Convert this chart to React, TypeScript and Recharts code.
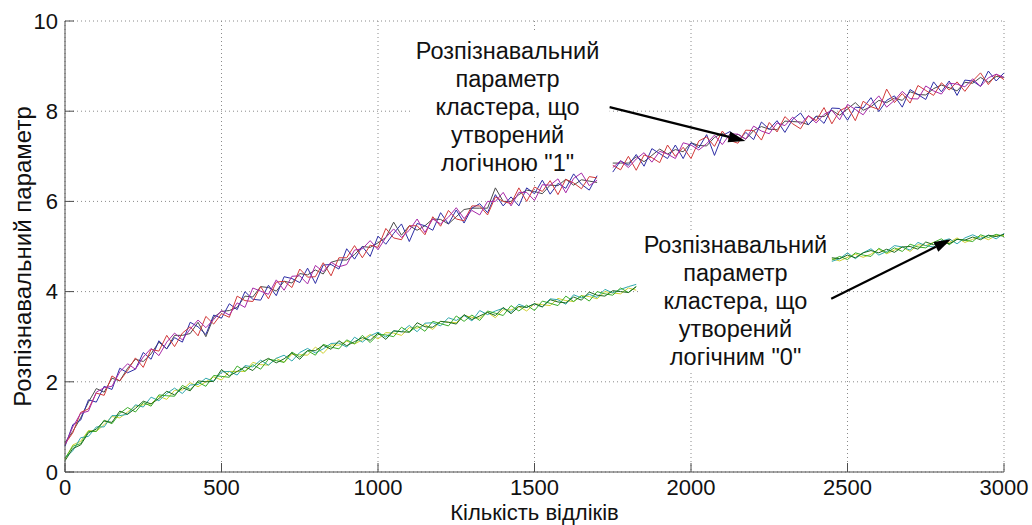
import React from 'react';
import {
  LineChart,
  Line,
  XAxis,
  YAxis,
  CartesianGrid,
  ReferenceLine,
  ReferenceDot,
  ReferenceArea,
} from 'recharts';

const FONT = "'Liberation Sans', Arial, Helvetica, sans-serif";

// sampling step of every recorded run (number of samples between points)
const STEP = 25;

const xTicks = [0, 500, 1000, 1500, 2000, 2500, 3000];
const yTicks = [0, 2, 4, 6, 8, 10];

// ---- cluster formed by logical "1": first run starts at 0, second at 1750
const oneStartA = 0;
const oneStartB = 1750;

const oneRedA = [0.62, 0.87, 1.32, 1.40, 1.75, 1.70, 2.13, 2.02, 2.25, 2.53, 2.32, 2.72, 2.68, 3.03, 2.78, 3.08, 3.22, 3.02, 3.45, 3.28, 3.51, 3.43, 3.90, 3.80, 3.78, 4.11, 3.84, 4.21, 4.23, 4.09, 4.50, 4.32, 4.33, 4.64, 4.35, 4.75, 4.75, 5.02, 4.75, 5.03, 4.98, 5.40, 5.19, 5.15, 5.46, 5.46, 5.26, 5.66, 5.45, 5.80, 5.61, 5.57, 5.90, 5.90, 5.70, 6.10, 6.00, 5.95, 6.30, 6.00, 6.32, 6.22, 6.46, 6.15, 6.49, 6.41, 6.28, 6.55, 6.52];
const oneBlueA = [0.57, 1.05, 1.15, 1.60, 1.55, 1.90, 1.83, 2.30, 2.20, 2.28, 2.65, 2.50, 2.91, 2.73, 2.98, 2.88, 3.32, 3.22, 3.05, 3.48, 3.41, 3.73, 3.60, 4.00, 3.83, 3.81, 4.14, 3.91, 4.33, 4.29, 4.20, 4.52, 4.18, 4.59, 4.60, 4.50, 4.95, 4.72, 5.00, 4.78, 5.23, 5.05, 5.29, 5.50, 5.11, 5.51, 5.46, 5.36, 5.75, 5.50, 5.81, 5.52, 5.85, 5.95, 5.75, 6.15, 5.90, 6.10, 5.90, 6.30, 6.17, 6.47, 6.16, 6.40, 6.29, 6.61, 6.38, 6.25, 6.57];
const oneMagentaA = [0.60, 1.00, 1.30, 1.35, 1.77, 1.87, 1.90, 2.22, 2.40, 2.28, 2.55, 2.74, 2.58, 2.88, 3.08, 2.93, 3.17, 3.37, 3.20, 3.38, 3.58, 3.48, 3.75, 3.65, 4.08, 4.01, 3.94, 4.26, 4.03, 4.34, 4.35, 4.17, 4.58, 4.44, 4.65, 4.55, 4.60, 4.92, 4.95, 5.13, 4.93, 5.20, 5.39, 5.20, 5.36, 5.61, 5.31, 5.61, 5.50, 5.65, 5.86, 5.62, 5.80, 5.70, 6.00, 6.00, 6.20, 5.90, 6.20, 6.20, 6.02, 6.37, 6.36, 6.50, 6.19, 6.51, 6.63, 6.35, 6.47];
const oneGrayA = [0.65, 0.90, 1.20, 1.55, 1.85, 1.77, 2.08, 2.02, 2.30, 2.50, 2.45, 2.62, 2.88, 2.73, 3.03, 3.03, 3.07, 3.32, 3.00, 3.43, 3.56, 3.58, 3.65, 3.90, 3.88, 4.11, 4.09, 4.01, 4.23, 4.19, 4.40, 4.37, 4.48, 4.39, 4.65, 4.70, 4.70, 4.82, 5.00, 4.98, 5.08, 5.20, 5.54, 5.25, 5.46, 5.36, 5.46, 5.61, 5.60, 5.50, 5.66, 5.82, 5.85, 5.85, 5.85, 6.30, 6.00, 6.00, 6.15, 6.25, 6.22, 6.17, 6.36, 6.35, 6.49, 6.36, 6.48, 6.45, 6.42];

const oneRedB = [6.80, 6.70, 7.00, 6.69, 7.03, 6.97, 6.86, 7.25, 7.00, 7.20, 6.95, 7.34, 7.43, 7.22, 7.56, 7.35, 7.29, 7.58, 7.57, 7.36, 7.75, 7.54, 7.88, 7.72, 7.61, 7.90, 7.79, 8.08, 7.72, 8.01, 8.10, 7.79, 8.22, 8.10, 8.04, 8.49, 8.19, 8.39, 8.18, 8.57, 8.46, 8.35, 8.63, 8.47, 8.65, 8.44, 8.67, 8.85, 8.59, 8.82, 8.70];
const oneBlueB = [6.65, 6.90, 6.80, 7.04, 6.78, 7.17, 7.06, 6.95, 7.25, 6.95, 7.30, 7.19, 7.48, 7.02, 7.46, 7.55, 7.34, 7.53, 7.37, 7.76, 7.60, 7.79, 7.53, 7.82, 7.96, 7.70, 7.89, 7.73, 8.07, 8.06, 7.80, 8.09, 8.07, 8.30, 7.99, 8.24, 8.34, 8.09, 8.48, 8.37, 8.26, 8.65, 8.43, 8.67, 8.35, 8.69, 8.67, 8.55, 8.89, 8.67, 8.85];
const oneMagentaB = [6.75, 6.90, 6.75, 6.94, 7.08, 6.87, 7.11, 7.05, 6.95, 7.30, 7.25, 7.14, 7.28, 7.47, 7.26, 7.50, 7.49, 7.38, 7.67, 7.56, 7.50, 7.74, 7.68, 7.87, 7.71, 7.90, 7.74, 7.93, 8.02, 7.81, 8.15, 8.04, 7.92, 8.15, 8.34, 8.09, 8.24, 8.44, 8.28, 8.27, 8.56, 8.45, 8.38, 8.62, 8.60, 8.54, 8.72, 8.55, 8.74, 8.82, 8.75];
const oneGrayB = [6.85, 6.85, 6.85, 6.99, 6.88, 7.02, 7.16, 7.05, 7.15, 7.10, 7.30, 7.24, 7.23, 7.42, 7.51, 7.40, 7.49, 7.38, 7.57, 7.66, 7.60, 7.59, 7.78, 7.77, 7.76, 7.70, 7.89, 7.88, 8.02, 7.91, 8.05, 8.19, 8.02, 8.10, 8.24, 8.19, 8.29, 8.24, 8.43, 8.37, 8.36, 8.50, 8.58, 8.52, 8.45, 8.64, 8.62, 8.75, 8.64, 8.77, 8.75];

// ---- cluster formed by logical "0": first run starts at 0, second at 2450
const zeroStartA = 0;
const zeroStartB = 2450;

const zeroGreenA = [0.30, 0.57, 0.63, 0.90, 0.90, 1.15, 1.07, 1.30, 1.43, 1.33, 1.54, 1.46, 1.71, 1.69, 1.68, 1.92, 1.83, 1.99, 1.90, 2.14, 2.12, 2.10, 2.35, 2.23, 2.38, 2.28, 2.50, 2.47, 2.43, 2.66, 2.55, 2.69, 2.59, 2.83, 2.77, 2.73, 2.93, 2.84, 3.03, 2.87, 3.05, 3.04, 3.00, 3.21, 3.10, 3.24, 3.12, 3.34, 3.29, 3.24, 3.46, 3.34, 3.48, 3.36, 3.57, 3.52, 3.47, 3.69, 3.57, 3.70, 3.58, 3.79, 3.74, 3.69, 3.90, 3.78, 3.91, 3.79, 4.00, 3.95, 3.92, 4.08, 3.98, 4.11];
const zeroCyanA = [0.32, 0.47, 0.76, 0.79, 1.00, 1.00, 1.25, 1.25, 1.28, 1.49, 1.44, 1.66, 1.58, 1.74, 1.86, 1.74, 1.93, 1.94, 2.08, 2.01, 2.22, 2.23, 2.15, 2.36, 2.33, 2.48, 2.37, 2.52, 2.59, 2.46, 2.65, 2.74, 2.64, 2.73, 2.85, 2.86, 2.77, 2.99, 2.88, 3.02, 3.10, 2.99, 3.13, 3.11, 3.25, 3.11, 3.30, 3.31, 3.24, 3.42, 3.36, 3.47, 3.35, 3.58, 3.49, 3.57, 3.63, 3.54, 3.72, 3.65, 3.73, 3.66, 3.84, 3.82, 3.72, 3.93, 3.86, 3.94, 3.87, 4.05, 3.97, 4.05, 4.11, 4.16];
const zeroYellowA = [0.28, 0.60, 0.68, 0.92, 0.90, 1.05, 1.23, 1.20, 1.33, 1.46, 1.49, 1.51, 1.68, 1.61, 1.81, 1.82, 1.98, 1.89, 2.00, 2.11, 2.04, 2.23, 2.23, 2.23, 2.43, 2.38, 2.37, 2.52, 2.43, 2.61, 2.60, 2.59, 2.77, 2.63, 2.82, 2.81, 2.90, 2.84, 2.93, 3.05, 2.95, 3.09, 3.08, 3.03, 3.20, 3.19, 3.27, 3.16, 3.34, 3.32, 3.31, 3.47, 3.43, 3.41, 3.54, 3.42, 3.60, 3.59, 3.67, 3.57, 3.73, 3.71, 3.69, 3.85, 3.80, 3.78, 3.91, 3.89, 3.84, 4.00, 3.97, 3.95, 4.08, 4.03];
const zeroDarkA = [0.25, 0.52, 0.60, 0.87, 0.95, 1.13, 1.10, 1.35, 1.28, 1.41, 1.57, 1.51, 1.63, 1.79, 1.71, 1.87, 1.80, 2.02, 2.00, 2.01, 2.27, 2.13, 2.23, 2.33, 2.25, 2.43, 2.52, 2.42, 2.51, 2.64, 2.50, 2.69, 2.69, 2.81, 2.72, 2.91, 2.80, 2.89, 2.98, 2.92, 3.08, 2.94, 3.13, 3.11, 3.10, 3.31, 3.22, 3.21, 3.34, 3.32, 3.28, 3.49, 3.38, 3.46, 3.54, 3.47, 3.65, 3.51, 3.67, 3.65, 3.73, 3.66, 3.82, 3.77, 3.75, 3.88, 3.81, 3.99, 3.92, 3.90, 4.02, 4.00, 3.98, 4.11];

const zeroGreenB = [4.70, 4.78, 4.71, 4.86, 4.81, 4.78, 4.96, 4.86, 4.97, 4.89, 5.05, 4.99, 4.97, 5.09, 5.17, 5.04, 5.16, 5.14, 5.11, 5.26, 5.20, 5.27, 5.22];
const zeroCyanB = [4.67, 4.73, 4.86, 4.73, 4.86, 4.95, 4.81, 4.89, 5.02, 4.99, 4.92, 5.09, 5.02, 4.99, 5.12, 5.17, 5.06, 5.19, 5.26, 5.18, 5.25, 5.17, 5.29];
const zeroYellowB = [4.73, 4.68, 4.76, 4.83, 4.76, 4.83, 4.94, 4.84, 4.92, 4.99, 4.89, 5.04, 5.02, 5.09, 5.02, 5.09, 5.19, 5.09, 5.16, 5.23, 5.15, 5.25, 5.24];
const zeroDarkB = [4.75, 4.73, 4.81, 4.75, 4.86, 4.91, 4.86, 4.94, 4.87, 4.99, 5.00, 4.94, 5.10, 5.04, 5.12, 5.06, 5.16, 5.14, 5.21, 5.15, 5.25, 5.22, 5.27];

// ---- captions
const oneCaption = ['Розпізнавальний', 'параметр', 'кластера, що', 'утворений', 'логічною "1"'];
const zeroCaption = ['Розпізнавальний', 'параметр', 'кластера, що', 'утворений', 'логічним "0"'];

const toRows = (start: number, ys: number[]) => ys.map((y, i) => ({ x: start + i * STEP, y }));

const COLORS = {
  red: '#d23a3a',
  blue: '#2e2ea6',
  magenta: '#a82aa8',
  gray: '#4a4a4a',
  green: '#3aae2a',
  cyan: '#2fa8ac',
  yellow: '#cfd030',
  dark: '#1d6b1d',
};

const runs = [
  { id: 'zy-a', start: zeroStartA, ys: zeroYellowA, color: COLORS.yellow },
  { id: 'zc-a', start: zeroStartA, ys: zeroCyanA, color: COLORS.cyan },
  { id: 'zg-a', start: zeroStartA, ys: zeroGreenA, color: COLORS.green },
  { id: 'zd-a', start: zeroStartA, ys: zeroDarkA, color: COLORS.dark },
  { id: 'zy-b', start: zeroStartB, ys: zeroYellowB, color: COLORS.yellow },
  { id: 'zc-b', start: zeroStartB, ys: zeroCyanB, color: COLORS.cyan },
  { id: 'zg-b', start: zeroStartB, ys: zeroGreenB, color: COLORS.green },
  { id: 'zd-b', start: zeroStartB, ys: zeroDarkB, color: COLORS.dark },
  { id: 'og-a', start: oneStartA, ys: oneGrayA, color: COLORS.gray },
  { id: 'ob-a', start: oneStartA, ys: oneBlueA, color: COLORS.blue },
  { id: 'or-a', start: oneStartA, ys: oneRedA, color: COLORS.red },
  { id: 'om-a', start: oneStartA, ys: oneMagentaA, color: COLORS.magenta },
  { id: 'og-b', start: oneStartB, ys: oneGrayB, color: COLORS.gray },
  { id: 'ob-b', start: oneStartB, ys: oneBlueB, color: COLORS.blue },
  { id: 'or-b', start: oneStartB, ys: oneRedB, color: COLORS.red },
  { id: 'om-b', start: oneStartB, ys: oneMagentaB, color: COLORS.magenta },
];

// arrowed line: shaft plus a filled head at the second point
const ArrowShape = (props: any) => {
  const { x1, y1, x2, y2 } = props;
  const a = Math.atan2(y2 - y1, x2 - x1);
  const len = 17;
  const half = 5.5;
  const bx = x2 - len * Math.cos(a);
  const by = y2 - len * Math.sin(a);
  const p1x = bx + half * Math.sin(a);
  const p1y = by - half * Math.cos(a);
  const p2x = bx - half * Math.sin(a);
  const p2y = by + half * Math.cos(a);
  return (
    <g>
      <line x1={x1} y1={y1} x2={bx} y2={by} stroke="#000" strokeWidth={2.2} />
      <polygon points={`${x2},${y2} ${p1x},${p1y} ${p2x},${p2y}`} fill="#000" />
    </g>
  );
};

const captionShape = (lines: string[]) => (p: any) => (
  <text
    x={p.cx}
    y={p.cy}
    textAnchor="middle"
    fontSize={23.5}
    fontFamily={FONT}
    fill="#111"
  >
    {lines.map((l, i) => (
      <tspan key={i} x={p.cx} dy={i === 0 ? 0 : 28}>
        {l}
      </tspan>
    ))}
  </text>
);

export default function App() {
  const axisColor = '#4d4d4d';
  const tickStyle = { fill: '#111', fontSize: 22, fontFamily: FONT };
  return (
    <div style={{ position: 'absolute', left: 0, top: 0, width: 1032, height: 525, background: '#fff' }}>
      <LineChart width={1032} height={525} margin={{ top: 21, right: 28, bottom: 0, left: 0 }}>
        <CartesianGrid stroke="#8a8a8a" strokeDasharray="1 3" />
        <XAxis
          type="number"
          dataKey="x"
          domain={[0, 3000]}
          ticks={xTicks}
          interval={0}
          height={53}
          tickSize={-9}
          tickMargin={16}
          stroke={axisColor}
          tick={tickStyle}
          label={{ value: 'Кількість відліків', position: 'insideBottom', offset: 5, fill: '#111', fontSize: 22, fontFamily: FONT }}
        />
        <XAxis
          xAxisId="top"
          orientation="top"
          type="number"
          dataKey="x"
          domain={[0, 3000]}
          ticks={xTicks}
          interval={0}
          height={0}
          tickSize={-9}
          tick={false}
          stroke={axisColor}
        />
        <YAxis
          type="number"
          domain={[0, 10]}
          ticks={yTicks}
          interval={0}
          width={65}
          tickSize={-9}
          tickMargin={16}
          stroke={axisColor}
          tick={tickStyle}
          label={{ value: 'Розпізнавальний параметр', angle: -90, position: 'center', dx: -10, dy: 10, fill: '#111', fontSize: 24, fontFamily: FONT }}
        />
        <YAxis
          yAxisId="right"
          orientation="right"
          type="number"
          domain={[0, 10]}
          ticks={yTicks}
          interval={0}
          width={0}
          tickSize={-9}
          tick={false}
          stroke={axisColor}
        />

        {/* white backgrounds behind the captions */}
        <ReferenceArea x1={1111} x2={1740} y1={6.6} y2={9.8} fill="#fff" fillOpacity={1} stroke="none" ifOverflow="visible" />
        <ReferenceArea x1={1839} x2={2452} y1={2.22} y2={5.3} fill="#fff" fillOpacity={1} stroke="none" ifOverflow="visible" />

        {runs.map((r) => (
          <Line
            key={r.id}
            data={toRows(r.start, r.ys)}
            dataKey="y"
            type="linear"
            stroke={r.color}
            strokeWidth={1}
            dot={false}
            activeDot={false}
            isAnimationActive={false}
          />
        ))}

        <ReferenceLine
          segment={[{ x: 1740, y: 8.09 }, { x: 2174, y: 7.34 }]}
          shape={ArrowShape}
          ifOverflow="visible"
        />
        <ReferenceLine
          segment={[{ x: 2448, y: 3.84 }, { x: 2831, y: 5.16 }]}
          shape={ArrowShape}
          ifOverflow="visible"
        />
        <ReferenceDot x={1414} y={9.15} r={0} ifOverflow="visible" shape={captionShape(oneCaption)} />
        <ReferenceDot x={2142} y={4.85} r={0} ifOverflow="visible" shape={captionShape(zeroCaption)} />
      </LineChart>
    </div>
  );
}
